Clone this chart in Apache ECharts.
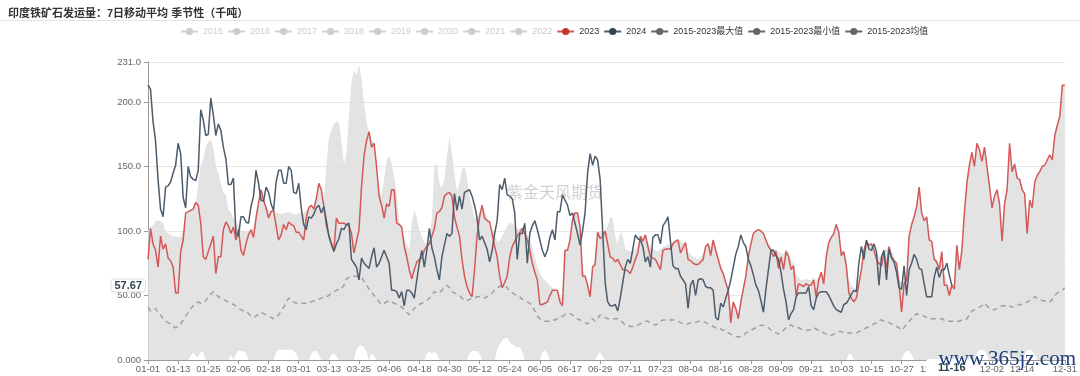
<!DOCTYPE html>
<html>
<head>
<meta charset="utf-8">
<script src="https://cdn.jsdelivr.net/npm/echarts@6/dist/echarts.min.js"></script>
<style>
html,body{margin:0;padding:0;background:#fff;}
#chart{width:1080px;height:376px;}
</style>
</head>
<body>
<div id="chart"></div>
<script>
const TITLE = '印度铁矿石发运量：7日移动平均 季节性（千吨）';
const WATERMARK = '紫金天风期货';
const SITE = 'www.365jz.com';
const monthDays = [31,29,31,30,31,30,31,31,30,31,30,31];
const categories = [];
monthDays.forEach((n, m) => { for (let d = 1; d <= n; d++) categories.push(String(m + 1).padStart(2, '0') + '-' + String(d).padStart(2, '0')); });

const hiddenYears = ['2015','2016','2017','2018','2019','2020','2021','2022'];
const yTickLabels = [0, 50, 100, 150, 200, 231];
const pointerDate = '11-16';
const pointerValue = 57.67;

const s2023 = [
78,102,90,85,72,96,86,90,79,77,
72,52,52,84,93,114,115,116,117,122,
120,106,80,78,84,90,96,67,80,80,
101,107,104,98,103,93,101,85,81,90,
97,101,95,110,122,132,124,118,110,115,
116,104,93,97,105,101,107,105,104,99,
99,96,93,110,118,120,117,125,137,132,
119,104,97,90,85,110,106,106,106,105,
104,98,83,92,101,134,158,170,177,165,
168,150,127,120,110,121,119,132,132,106,
105,103,88,80,70,63,70,76,78,79,
85,88,90,96,102,114,115,118,127,129,
130,127,111,103,96,78,65,57,52,49,
70,96,111,120,110,108,107,98,88,80,
65,56,60,65,80,88,92,96,99,102,
98,93,85,75,68,62,43,43,44,45,
50,54,54,54,45,42,85,85,93,109,
114,114,103,65,65,58,49,72,74,99,
94,96,100,90,80,79,76,78,74,70,
70,69,67,72,78,83,96,92,97,88,
80,79,78,74,70,85,86,86,86,90,
92,93,83,87,91,78,77,75,74,74,
76,78,88,90,81,93,85,78,71,67,
60,54,29,45,40,32,45,55,65,80,
90,98,100,101,100,98,93,88,85,80,
84,71,80,70,84,80,70,73,50,59,
58,57,59,58,58,62,49,62,68,59,
80,91,95,98,105,99,81,84,73,52,
48,45,48,59,70,85,92,89,90,85,
78,75,73,83,71,88,80,77,75,59,
37,59,62,96,105,111,119,134,114,108,
111,93,92,78,76,70,84,58,58,50,
58,55,89,70,85,114,137,151,161,150,
168,163,154,165,150,135,118,127,132,121,
92,121,132,168,146,152,141,140,132,129,
98,124,118,138,143,146,150,151,155,159,
155,174,182,189,213,213
];

const s2024 = [
213,210,185,170,140,117,111,134,135,138,
145,151,168,160,126,118,150,142,140,139,
147,194,186,174,175,203,190,174,183,178,
165,156,136,136,141,98,96,111,111,107,
106,119,127,147,137,124,123,134,130,121,
116,138,147,147,137,137,150,147,130,129,
137,118,105,101,111,110,113,118,120,114,
119,108,96,90,84,90,94,102,101,105,
106,78,75,72,62,79,75,73,71,80,
87,72,75,80,85,80,75,54,54,53,
48,53,42,54,54,52,48,62,75,85,
72,85,102,87,80,70,62,80,89,98,
96,98,129,116,127,117,130,131,132,127,
120,110,93,96,91,86,76,85,98,108,
136,132,141,128,127,125,114,78,98,98,
106,75,98,104,108,101,93,85,80,85,
95,101,93,115,115,128,124,120,112,114,
106,98,89,100,114,145,160,151,158,155,
140,100,60,45,42,42,43,38,48,60,
72,78,75,86,97,94,93,88,76,80,
72,95,97,97,90,104,107,111,92,73,
71,71,65,62,59,40,58,62,50,62,
63,62,57,56,56,54,33,31,44,41,
48,54,62,72,82,88,97,91,88,78,
73,66,58,54,46,37,55,70,85,85,
81,78,68,55,45,31,36,39,49,52,
52,52,52,57,42,39,48,52,53,53,
53,50,46,42,39,38,37,43,44,47,
51,54,53,75,88,78,93,86,85,90,
84,58,80,85,62,86,79,76,68,56,
55,73,50,70,75,82,78,71,70,59,
49,49,49,64,72,64,70,70,75,66,
57.67
];

const sMax = [
100,103,104,108,108,108,106,100,98,97,
96,96,95,96,100,114,115,116,117,122,
137,150,156,165,169,171,165,150,145,137,
130,128,117,114,110,107,104,101,100,100,
100,101,102,110,122,132,124,120,116,116,
116,114,114,113,114,114,115,114,113,113,
114,115,114,116,118,120,118,125,137,132,
122,150,172,178,183,185,184,170,152,160,
190,215,225,221,229,218,199,184,177,170,
168,150,130,128,140,155,158,152,142,129,
108,103,95,90,85,106,116,111,101,96,
91,90,92,110,150,152,137,134,140,158,
173,160,145,130,137,148,150,142,127,119,
110,111,115,120,115,111,104,101,97,92,
92,96,100,104,106,106,104,102,102,103,
100,97,93,88,80,72,68,64,62,60,
58,56,55,54,50,48,85,86,93,109,
114,114,103,70,66,60,52,72,80,99,
100,100,100,104,111,110,96,90,99,96,
86,85,84,85,86,88,96,95,97,92,
88,87,85,84,86,88,88,90,89,92,
93,94,92,91,91,84,82,80,79,78,
80,82,88,90,88,94,88,82,74,68,
60,54,40,45,42,36,45,55,65,80,
90,98,100,101,100,98,94,90,88,86,
86,84,83,82,86,84,78,75,66,64,
62,62,63,62,62,64,62,64,68,66,
80,91,95,98,105,99,86,84,75,62,
58,56,55,62,72,85,92,90,90,86,
82,80,80,84,86,88,84,80,76,62,
60,62,66,96,105,111,119,134,114,110,
111,95,92,80,78,74,84,66,62,56,
60,58,89,75,85,114,137,151,161,152,
168,163,154,165,150,135,118,127,132,121,
92,121,132,168,146,152,141,140,132,129,
98,124,118,138,143,146,150,151,155,159,
155,174,182,189,213,213
];

const sMin = [
0,0,0,0,0,0,0,0,0,0,
0,0,0,0,0,0,0,3,6,3,
2,7,6,0,0,0,0,0,0,0,
0,0,0,4,0,5,7,7,7,5,
0,0,0,0,0,0,0,0,0,0,
0,6,8,8,8,8,8,8,7,5,
0,0,0,0,0,5,7,7,4,0,
0,0,0,4,5,3,0,0,0,0,
0,0,0,8,11,11,10,6,0,5,
3,0,0,0,0,0,0,0,0,0,
0,0,0,0,0,0,0,0,0,0,
0,5,7,5,6,5,0,0,0,0,
0,0,0,0,0,0,0,0,5,7,
7,7,5,0,0,0,0,0,0,8,
12,15,17,17,14,12,11,10,10,6,
0,0,0,0,0,0,0,6,8,5,
0,0,0,0,0,0,0,0,0,0,
0,0,0,0,0,0,0,0,0,4,
6,3,0,0,0,0,0,0,0,0,
0,0,0,0,0,0,0,0,0,0,
0,0,0,0,0,0,0,0,0,0,
0,0,0,0,0,0,0,0,0,0,
0,0,0,0,0,0,0,0,0,0,
0,0,0,0,0,0,0,0,0,0,
0,0,0,0,0,0,0,0,0,0,
0,0,0,0,0,0,0,0,0,0,
0,0,0,0,0,0,0,0,0,0,
0,0,0,0,0,0,0,0,0,5,
4,0,0,0,0,0,0,0,0,0,
0,0,0,0,0,0,0,0,0,0,
0,5,7,7,4,0,0,0,0,0,
0,0,0,0,0,0,0,0,0,0,
0,0,0,0,0,0,0,0,0,0,
5,8,8,7,4,0,0,0,0,0,
0,4,6,4,0,0,0,0,0,4,
8,8,7,4,0,0,0,0,0,0,
0,0,0,0,0,0
];

const sMean = [
41,38,39,40,37,35,32,30,29,28,
26,25,26,28,31,34,37,40,42,44,
45,44,44,46,49,51,53,51,49,48,
47,46,45,44,43,42,40,39,38,38,
36,34,33,34,36,37,36,35,34,33,
32,33,35,38,41,44,48,47,45,44,
44,44,44,44,45,45,46,46,47,48,
49,49,50,52,53,54,55,55,58,63,
64,64,65,65,65,64,61,58,55,53,
50,48,45,43,44,45,46,45,44,43,
42,41,39,37,35,37,40,42,43,44,
45,46,48,50,53,52,52,54,56,58,
56,53,52,51,50,48,46,46,47,48,
48,49,49,48,48,49,50,52,54,56,
57,58,58,56,53,52,51,50,49,47,
46,45,44,42,38,34,32,31,30,30,
30,31,31,32,33,34,35,36,36,35,
33,32,31,30,29,28,30,32,30,32,
35,34,33,32,32,32,32,32,31,29,
27,27,26,26,27,27,28,29,30,30,
29,28,27,28,30,31,31,31,31,31,
31,30,29,28,28,28,29,29,29,30,
30,30,29,28,27,26,25,24,24,23,
23,21,20,19,18,18,18,19,21,22,
23,24,25,26,27,27,26,25,23,22,
21,20,21,23,25,27,27,26,26,25,
24,23,23,23,24,25,24,23,22,21,
20,19,19,20,21,22,22,21,21,21,
21,21,21,22,23,24,25,26,27,28,
29,31,31,30,30,29,28,27,26,25,
23,25,28,30,32,34,36,35,35,34,
33,33,32,32,32,32,32,31,31,30,
30,30,30,30,31,31,32,35,38,39,
40,41,42,44,42,40,39,39,40,41,
42,42,43,42,41,41,42,43,43,44,
45,46,47,49,48,47,46,46,46,45,
47,50,52,53,54,56
];

const FONT = "'Liberation Sans','Noto Sans CJK SC',sans-serif";
const chart = echarts.init(document.getElementById('chart'));
const showLabel = (i) => (i % 12 === 0 && i <= 348) || i === categories.length - 1;

const legendNames = hiddenYears.concat(['2023','2024','2015-2023最大值','2015-2023最小值','2015-2023均值']);
const selected = {};
hiddenYears.forEach(y => selected[y] = false);

const hiddenSeries = hiddenYears.map(y => ({
  name: y, type: 'line', data: [], symbol: 'circle', showSymbol: false,
  itemStyle: {color: '#999'}, lineStyle: {width: 1.5}
}));

const option = {
  animation: false,
  textStyle: {fontFamily: FONT},
  title: {
    text: TITLE, left: 3, top: 3,
    textStyle: {fontSize: 11, fontWeight: 'bold', color: '#333', fontFamily: FONT}
  },
  legend: {
    left: 175, top: 22, itemWidth: 17, itemHeight: 9, itemGap: 4,
    selected: selected,
    inactiveColor: '#ccc',
    textStyle: {fontSize: 9, color: '#333', fontFamily: FONT},
    data: legendNames.map(n => {
      if (n.indexOf('2015-2023') === 0) return {name: n, itemStyle: {color: '#666'}, lineStyle: {color: '#666', width: 2, type: 'solid', opacity: 1}};
      return {name: n};
    })
  },
  grid: {left: 148, right: 13, top: 62, bottom: 16},
  xAxis: {
    type: 'category', boundaryGap: false, data: categories,
    axisLine: {lineStyle: {color: '#999'}},
    axisTick: {interval: (i) => showLabel(i), lineStyle: {color: '#999'}, length: 4},
    axisLabel: {interval: (i) => showLabel(i), color: '#666', fontSize: 9.5, margin: 5, fontFamily: FONT},
    splitLine: {show: false},
    axisPointer: {
      show: true, status: 'show', value: categories.indexOf(pointerDate), snap: false, triggerTooltip: false,
      lineStyle: {opacity: 0, width: 0},
      label: {show: true, backgroundColor: '#fff', color: '#2f4554', fontWeight: 'bold', fontSize: 11,
              padding: [3, 12, 3, 12], margin: 3, shadowBlur: 0, borderWidth: 0, fontFamily: FONT}
    }
  },
  yAxis: {
    type: 'value', min: yTickLabels[0], max: yTickLabels[yTickLabels.length - 1], interval: 50,
    axisLine: {show: true, lineStyle: {color: '#999'}},
    axisTick: {show: true, length: 4, lineStyle: {color: '#999'}},
    axisLabel: {color: '#666', fontSize: 9.5, margin: 7, fontFamily: FONT, formatter: (v) => Number(v).toPrecision(4)},
    splitLine: {lineStyle: {color: '#e8e8e8'}},
    axisPointer: {
      show: true, status: 'show', value: pointerValue, snap: false, triggerTooltip: false,
      lineStyle: {opacity: 0, width: 0},
      label: {show: true, backgroundColor: '#fff', color: '#2f4554', fontWeight: 'bold', fontSize: 11,
              padding: [1, 3, 0, 3], borderColor: '#ddd', borderWidth: 1, borderRadius: 3, shadowBlur: 0, margin: 3,
              fontFamily: FONT, formatter: (p) => Number(p.value).toPrecision(4)}
    }
  },
  graphic: [
    {type: 'line', shape: {x1: 0, y1: 20.5, x2: 1080, y2: 20.5}, style: {stroke: '#e3e3e3', lineWidth: 1}, silent: true},
    {type: 'text', left: 507, top: 186, z: -1, silent: true,
     style: {text: WATERMARK, fontSize: 16, fill: 'rgba(120,120,120,0.35)', fontFamily: FONT}},
    {type: 'text', right: 4, bottom: 6, z: 100, silent: true,
     style: {text: SITE, fontSize: 21, fill: '#1b3d78', fontFamily: "'Liberation Serif','DejaVu Serif',serif"}}
  ],
  series: hiddenSeries.concat([
    {name: '2015-2023最大值', type: 'line', data: sMax, symbol: 'circle', showSymbol: false,
     itemStyle: {color: '#666'}, lineStyle: {width: 0, color: '#dcdcdc'},
     areaStyle: {color: '#dcdcdc', opacity: 0.8}, z: 1},
    {name: '2015-2023最小值', type: 'line', data: sMin, symbol: 'circle', showSymbol: false,
     itemStyle: {color: '#666'}, lineStyle: {width: 0, color: '#fff'},
     areaStyle: {color: '#fff', opacity: 1}, z: 1},
    {name: '2015-2023均值', type: 'line', data: sMean, symbol: 'circle', showSymbol: false,
     itemStyle: {color: '#666'}, lineStyle: {width: 1.5, color: '#a0a0a0', type: [5, 4]}, z: 2},
    {name: '2023', type: 'line', data: s2023, symbol: 'circle', showSymbol: false,
     itemStyle: {color: '#c23531'}, lineStyle: {width: 1.5, color: '#d45858'}, z: 3},
    {name: '2024', type: 'line', data: s2024, symbol: 'circle', showSymbol: false,
     itemStyle: {color: '#2f4554'}, lineStyle: {width: 1.5, color: '#4c5c6b'}, z: 4}
  ])
};
chart.setOption(option);
</script>
</body>
</html>
